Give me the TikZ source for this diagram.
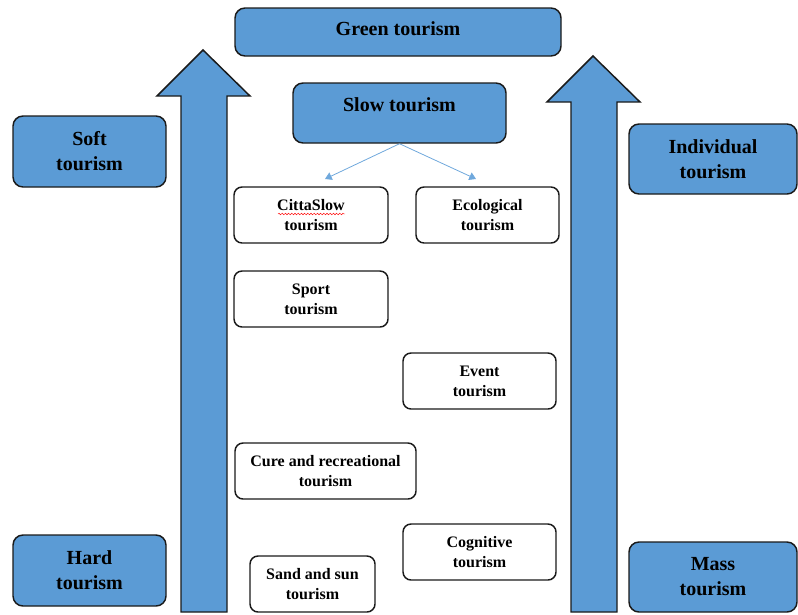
\documentclass[tikz,border=0pt]{standalone}
\usepackage{fontspec}
\setmainfont{Liberation Serif}
\usetikzlibrary{arrows.meta,decorations.pathmorphing}
\definecolor{boxblue}{HTML}{5B9BD5}
\definecolor{edge}{HTML}{1A1A1A}
\definecolor{thinblue}{HTML}{6FA8DC}
\begin{document}
\begin{tikzpicture}[x=0.75pt,y=-0.75pt,
  bluebox/.style={draw=edge, fill=boxblue, line width=1.1pt, rounded corners=7.5pt,
    inner sep=0pt, align=center, font=\fontsize{15}{18.75}\selectfont\bfseries},
  whitebox/.style={draw=edge, fill=white, line width=1.1pt, rounded corners=6pt,
    inner sep=0pt, align=center, font=\fontsize{12}{15}\selectfont\bfseries},
  bigarrow/.style={draw=edge, fill=boxblue, line width=1.1pt},
  thinarrow/.style={draw=thinblue, line width=0.6pt, -{Triangle[width=6pt,length=5pt]}}
]
\useasboundingbox (0,0) rectangle (798,614);

% big arrows
\draw[bigarrow] (181,612) -- (181,96) -- (157,96) -- (203,50) -- (250,96) -- (227,96) -- (227,612) -- cycle;
\draw[bigarrow] (571,612) -- (571,102) -- (547,102) -- (593,56) -- (640,102) -- (617,102) -- (617,612) -- cycle;

% blue boxes
\node[bluebox, minimum width=244.5pt, minimum height=36pt, text depth=4.5pt] (green) at (398,32) {Green tourism};
\node[bluebox, minimum width=159.75pt, minimum height=45pt, text depth=12pt] (slow) at (399.5,113) {Slow tourism};
\node[bluebox, minimum width=114.75pt, minimum height=53.25pt] (soft) at (89.5,151.5) {Soft\\tourism};
\node[bluebox, minimum width=126pt, minimum height=52.5pt] (indiv) at (713,159) {Individual\\tourism};
\node[bluebox, minimum width=114.75pt, minimum height=53.25pt] (hard) at (89.5,570.5) {Hard\\tourism};
\node[bluebox, minimum width=126pt, minimum height=52.5pt] (mass) at (713,577) {Mass\\tourism};

% white boxes
\node[whitebox, minimum width=115.5pt, minimum height=42pt] (citta) at (311,215) {CittaSlow\\tourism};
\node[whitebox, minimum width=107.25pt, minimum height=42pt] (eco) at (487.5,215) {Ecological\\tourism};
\node[whitebox, minimum width=115.5pt, minimum height=42pt] (sport) at (311,299) {Sport\\tourism};
\node[whitebox, minimum width=114.75pt, minimum height=42pt] (event) at (479.5,381) {Event\\tourism};
\node[whitebox, minimum width=135.75pt, minimum height=42pt] (cure) at (325.5,471) {Cure and recreational\\tourism};
\node[whitebox, minimum width=114.75pt, minimum height=42pt] (cogn) at (479.5,552) {Cognitive\\tourism};
\node[whitebox, minimum width=93.75pt, minimum height=42pt] (sand) at (312.5,584) {Sand and sun\\tourism};

% spell-check squiggle
\draw[red, line width=0.35pt, decorate, decoration={snake, amplitude=0.6pt, segment length=2.4pt}] (278,214) -- (345,214);

% thin arrows
\coordinate (e1) at (325,179);
\coordinate (e2) at (476,179);
\draw[thinarrow] (slow.south) -- (e1);
\draw[thinarrow] (slow.south) -- (e2);
\end{tikzpicture}
\end{document}
